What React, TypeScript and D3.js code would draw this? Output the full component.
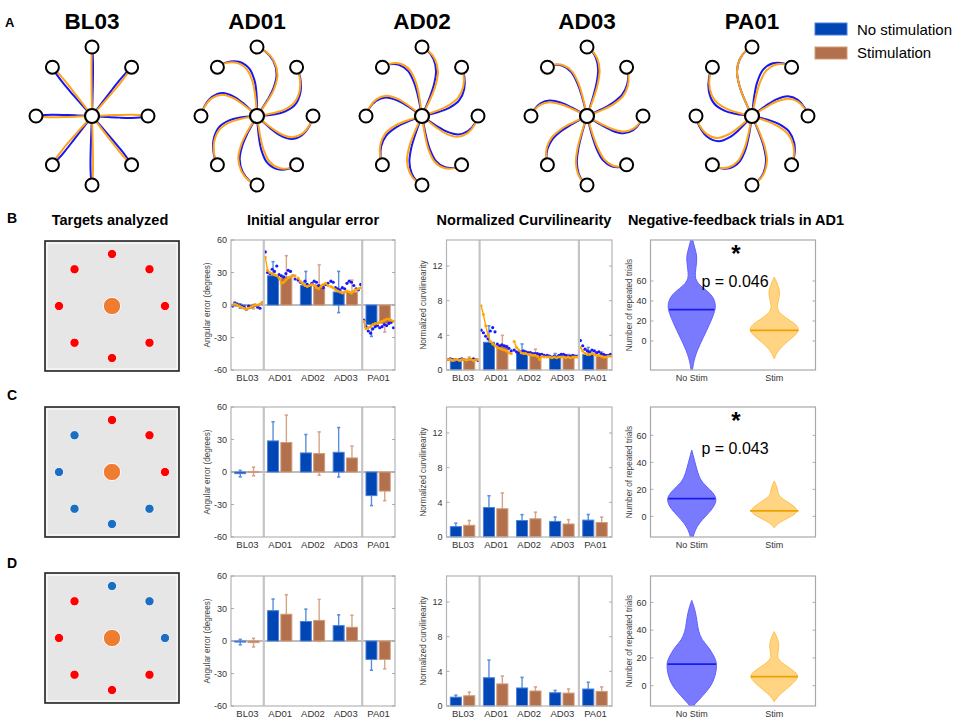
import React from "react";
import * as d3 from "d3";

const FONT = "'Liberation Sans', Arial, Helvetica, sans-serif";

// ---------- DATA ----------
const subjects = ["BL03", "AD01", "AD02", "AD03", "PA01"];
const legendLabels = ["No stimulation", "Stimulation"];
const rowLetters = ["B", "C", "D"];
const violinGroups = ["No Stim", "Stim"];

// Panel A: initial deviation (deg, + = clockwise on screen) of the path to each of 8 targets
// (target order: right, upper-right, top, upper-left, left, lower-left, bottom, lower-right)
const trajDevBlue = [
  [3, -2, 2, -3, 2, -2, 3, -2],
  [38, 42, 40, 45, 38, 42, 35, 40],
  [30, 35, 28, 32, 30, 28, 25, 32],
  [28, 25, 22, 28, 25, 22, 20, 28],
  [-32, -38, -30, -40, -42, -35, -28, -35],
];
const trajDevOrange = [
  [-2, 2, -1, 2, -2, 3, -2, 2],
  [35, 38, 42, 40, 35, 38, 38, 35],
  [34, 30, 32, 36, 33, 32, 30, 35],
  [25, 28, 25, 30, 22, 25, 22, 25],
  [-28, -32, -30, -35, -36, -32, -30, -30],
];

// Targets analyzed (per row), same target order as above
const targetColorsB = ["red", "red", "red", "red", "red", "red", "red", "red"];
const targetColorsC = ["red", "red", "red", "blue", "blue", "blue", "blue", "blue"];
const targetColorsD = ["blue", "blue", "blue", "red", "red", "red", "red", "red"];
const targetColors = [targetColorsB, targetColorsC, targetColorsD];

// Initial angular error (deg): mean and SD, rows B, C, D
const angMeanBlue = [
  [-1, 27, 18, 12, -18],
  [-1.5, 28.7, 17.6, 18.2, -21.8],
  [-1, 28, 18, 14.2, -17],
];
const angErrBlue = [
  [2, 13, 13, 19, 11],
  [3, 17.6, 17, 22.8, 9.2],
  [2.5, 10.7, 11.4, 9.9, 10],
];
const angMeanOrange = [
  [-1.5, 26, 18.5, 12, -17],
  [0.5, 27.2, 17, 13, -17.6],
  [-1.5, 24.7, 19, 12.7, -17],
];
const angErrOrange = [
  [2, 19.5, 18.5, 11, 8],
  [4, 25.3, 20, 11, 8.9],
  [4, 18, 19.4, 11.1, 8.7],
];
const angTicks = [60, 30, 0, -30, -60];

// Trial-by-trial angular error, row B
const angTrialsBlue = [
  [-1, 2, 1, 0, -1, -2, -4, -1, -2, -1, 0, -2, -3, 2],
  [49, 30, 29, 33, 31, 36, 28, 27, 26, 29, 32, 31, 27, 24],
  [23, 21, 20, 22, 19, 18, 20, 22, 21, 18, 17, 16, 19, 20],
  [22, 21, 16, 15, 14, 16, 15, 20, 22, 21, 18, 15, 14, 19],
  [-14, -20, -24, -26, -22, -20, -19, -21, -20, -18, -19, -17, -16, -21],
];
const angTrialsOrange = [
  [0, 1, 0, -1, -2, -3, -4, -3, -2, -1, 0, 0, 1, 2],
  [44, 32, 30, 29, 28, 27, 25, 20, 21, 23, 25, 26, 27, 27],
  [25, 22, 20, 18, 17, 18, 19, 18, 16, 15, 17, 19, 20, 18],
  [17, 16, 14, 13, 12, 11, 12, 13, 12, 11, 13, 14, 15, 16],
  [-15, -22, -21, -20, -18, -17, -17, -16, -15, -14, -13, -13, -14, -15],
];

// Normalized curvilinearity: mean and SD, rows B, C, D
const curvMeanBlue = [
  [1.0, 3.2, 2.0, 1.5, 1.8],
  [1.2, 3.4, 1.9, 1.8, 1.95],
  [1.02, 3.26, 2.08, 1.53, 1.96],
];
const curvErrBlue = [
  [0.2, 1.9, 1.0, 0.4, 0.8],
  [0.4, 1.36, 0.68, 0.5, 0.65],
  [0.23, 2.04, 1.22, 0.27, 0.78],
];
const curvMeanOrange = [
  [1.1, 2.85, 1.9, 1.5, 1.6],
  [1.35, 3.26, 2.1, 1.5, 1.67],
  [1.18, 2.55, 1.73, 1.49, 1.68],
];
const curvErrOrange = [
  [0.4, 1.15, 0.5, 0.3, 0.5],
  [0.55, 1.82, 0.76, 0.5, 0.63],
  [0.42, 0.9, 0.47, 0.47, 0.52],
];
const curvTicks = [0, 4, 8, 12];

const curvTrialsBlue = [
  [1.2, 1.3, 1.2, 1.2, 1.1, 1.2, 1.3, 1.2, 1.1, 1.2, 1.2, 1.3, 1.2, 1.1],
  [4.6, 4.3, 3.9, 3.6, 4.5, 4.9, 4.4, 3.0, 2.8, 2.9, 2.8, 2.7, 2.5, 2.2],
  [2.3, 2.1, 2.0, 2.1, 2.2, 2.1, 2.0, 2.0, 1.9, 1.9, 1.9, 1.8, 1.8, 1.7],
  [1.7, 1.6, 1.5, 1.6, 1.5, 1.7, 1.8, 1.8, 1.7, 1.6, 1.6, 1.7, 1.6, 1.6],
  [3.4, 2.8, 2.4, 2.2, 2.1, 2.3, 2.2, 2.0, 2.1, 1.9, 1.8, 1.7, 1.7, 1.8],
];
const curvTrialsOrange = [
  [1.2, 1.2, 1.1, 1.2, 1.2, 1.1, 1.2, 1.2, 1.1, 1.2, 1.2, 1.1, 1.2, 1.2],
  [7.4, 6.4, 5.1, 4.0, 3.3, 3.0, 2.8, 2.6, 2.5, 2.4, 2.3, 2.2, 2.0, 1.9],
  [3.3, 2.6, 2.3, 2.0, 1.9, 1.9, 1.8, 1.8, 1.7, 1.7, 1.6, 1.2, 1.6, 1.5],
  [1.5, 1.5, 1.4, 1.5, 1.4, 1.5, 1.5, 1.5, 1.4, 1.5, 1.4, 1.5, 1.5, 1.5],
  [2.6, 2.2, 1.9, 1.8, 1.8, 1.9, 1.8, 1.7, 1.7, 1.6, 1.5, 1.5, 1.6, 1.6],
];

// Negative-feedback trials: violin profiles [value, relative density]
const violinBlue = [
  [[-32, 0.02], [-23, 0.05], [-10, 0.2], [4, 0.47], [17, 0.72], [28, 0.9], [35, 0.97], [44, 0.87], [50, 0.62], [55, 0.35], [60, 0.18], [65, 0.13], [72, 0.16], [80, 0.2], [86, 0.2], [93, 0.12], [101, 0.04], [104, 0]],
  [[-18, 0.02], [-15, 0.05], [-10, 0.14], [-5, 0.3], [0, 0.55], [6, 0.85], [11, 0.98], [15, 0.96], [20, 0.72], [25, 0.42], [30, 0.28], [35, 0.2], [40, 0.13], [45, 0.06], [49, 0]],
  [[-17, 0.02], [-14, 0.08], [-10, 0.3], [-4, 0.6], [2, 0.85], [10, 0.98], [16, 1.0], [20, 0.93], [28, 0.67], [33, 0.4], [39, 0.27], [45, 0.22], [50, 0.18], [55, 0.12], [59, 0.05], [61.5, 0]],
];
const violinOrange = [
  [[-18, 0], [-14, 0.06], [-8, 0.2], [0, 0.55], [6, 0.85], [11, 1.0], [16, 0.9], [21, 0.6], [26, 0.3], [31, 0.13], [36, 0.12], [42, 0.18], [47, 0.22], [52, 0.2], [57, 0.12], [62, 0.04], [64, 0]],
  [[-8.6, 0], [-6, 0.1], [-3, 0.35], [0, 0.7], [4, 1.0], [8, 0.75], [11, 0.5], [14, 0.25], [17, 0.15], [20, 0.13], [23, 0.08], [26.2, 0]],
  [[-11.7, 0], [-9, 0.08], [-5, 0.3], [0, 0.65], [6, 1.0], [10, 0.85], [14, 0.5], [18, 0.2], [21, 0.12], [25, 0.16], [29, 0.19], [33, 0.15], [36, 0.08], [39, 0]],
];
const violinMedianBlue = [31.3, 13.1, 15.5];
const violinMedianOrange = [10.7, 4, 6.5];
const violinDomains = [[-29, 101], [-15.3, 81], [-14.6, 79]];
const violinTicks = [0, 20, 40, 60];
const pValues = ["p = 0.046", "p = 0.043", ""];

// ---------- STYLE / LAYOUT ----------
const COL = {
  barBlue: "#0046b4",
  barBlueEdge: "#4d80d8",
  barBrown: "#b2704c",
  barBrownEdge: "#d39a78",
  errBlue: "#5b8fdc",
  errBrown: "#d7a488",
  trajBlue: "#1717ee",
  trajOrange: "#ffa31a",
  dotBlue: "#1a1aff",
  dotOrange: "#ffa500",
  axis: "#b4b4b4",
  sep: "#c4c4c4",
  text: "#333",
};
const rowTops = [240, 407, 576];
const ROW_H = 130;
const targetTops = [241, 407, 573];

const S_FR = [0, 0.12, 0.3, 0.5, 0.7, 0.85, 0.95, 1.0];
const F_FR = [1, 1, 0.97, 0.9, 0.75, 0.5, 0.22, 0];

const trajX = d3.scalePoint<string>().domain(subjects).range([92, 752]);
const TR_CY = 116, TR_RX = 56, TR_RY = 69;

const line = d3.line<[number, number]>().curve(d3.curveCatmullRom.alpha(0.5));

function TrajStar({ name, idx }: { name: string; idx: number }) {
  const cx = trajX(name) as number;
  const pathFor = (k: number, dev: number) => {
    const th = k * 45;
    const pts = S_FR.map((s, i) => {
      const a = ((th - dev * F_FR[i]) * Math.PI) / 180;
      return [cx + TR_RX * s * Math.cos(a), TR_CY - TR_RY * s * Math.sin(a)] as [number, number];
    });
    return line(pts) || "";
  };
  const ks = d3.range(8);
  return (
    <g>
      <text x={cx} y={29} textAnchor="middle" fontFamily={FONT} fontWeight="bold" fontSize={22.5}>{name}</text>
      {ks.map((k) => (
        <path key={"b" + k} d={pathFor(k, trajDevBlue[idx][k])} fill="none" stroke={COL.trajBlue} strokeWidth={2} />
      ))}
      {ks.map((k) => (
        <path key={"o" + k} d={pathFor(k, trajDevOrange[idx][k])} fill="none" stroke={COL.trajOrange} strokeWidth={2} />
      ))}
      {ks.map((k) => {
        const a = (k * 45 * Math.PI) / 180;
        return (
          <circle key={"t" + k} cx={cx + TR_RX * Math.cos(a)} cy={TR_CY - TR_RY * Math.sin(a)} r={6.5} fill="white" stroke="#000" strokeWidth={2} />
        );
      })}
      <circle cx={cx} cy={TR_CY} r={7} fill="white" stroke="#000" strokeWidth={2.2} />
    </g>
  );
}

function TargetBox({ row }: { row: number }) {
  const x0 = 45, x1 = 179, y0 = targetTops[row], y1 = y0 + 130;
  const cx = (x0 + x1) / 2, cy = (y0 + y1) / 2;
  const colorMap: Record<string, string> = { red: "#ff0000", blue: "#1b6ec2" };
  return (
    <g>
      <rect x={x0} y={y0} width={x1 - x0} height={y1 - y0} fill="#e6e6e6" stroke="#222" strokeWidth={1.6} />
      <rect x={x0 + 2} y={y0 + 2} width={x1 - x0 - 4} height={y1 - y0 - 4} fill="none" stroke="#fff" strokeWidth={1} />
      {targetColors[row].map((c, k) => {
        const a = (k * 45 * Math.PI) / 180;
        return <circle key={k} cx={cx + 53 * Math.cos(a)} cy={cy - 52 * Math.sin(a)} r={4.6} fill={colorMap[c]} stroke="#fff" strokeWidth={0.8} />;
      })}
      <circle cx={cx} cy={cy} r={8.7} fill="#ee7d31" stroke="#fff" strokeWidth={1} />
    </g>
  );
}

type BarProps = {
  x0: number; x1: number; y0: number; y1: number;
  domain: [number, number]; ticks: number[];
  meanB: number[]; errB: number[]; meanO: number[]; errO: number[];
  trialsB?: number[][]; trialsO?: number[][];
  ylabel: string; zero: boolean;
};

function BarPanel(p: BarProps) {
  const x = d3.scaleBand<string>().domain(subjects).range([p.x0, p.x1]);
  const bw = x.bandwidth();
  const sub = d3.scaleBand<string>().domain(["b", "o"]).range([bw * 0.1, bw * 0.87]).paddingInner(0.1);
  const y = d3.scaleLinear().domain(p.domain).range([p.y1, p.y0]);
  const w = sub.bandwidth();
  const bar = (cat: string, key: string, m: number, e: number, fill: string, edge: string, ec: string) => {
    const bx = (x(cat) as number) + (sub(key) as number);
    const xc = bx + w / 2;
    const top = Math.min(y(0), y(m));
    const h = Math.abs(y(m) - y(0));
    return (
      <g key={cat + key}>
        <line x1={xc} x2={xc} y1={y(m - e)} y2={y(m + e)} stroke={ec} strokeWidth={1.4} />
        <line x1={xc - 1.6} x2={xc + 1.6} y1={y(m - e)} y2={y(m - e)} stroke={ec} strokeWidth={1.6} />
        <line x1={xc - 1.6} x2={xc + 1.6} y1={y(m + e)} y2={y(m + e)} stroke={ec} strokeWidth={1.6} />
        <rect x={bx + 0.5} y={top} width={w - 1} height={Math.max(h, 1)} fill={fill} stroke={edge} strokeWidth={1} />
      </g>
    );
  };
  const trialPts = (vals: number[], cat: string) => {
    const xs = d3.scaleLinear().domain([0, vals.length - 1]).range([(x(cat) as number) + 1.5, (x(cat) as number) + bw - 1.5]);
    return vals.map((v, j) => [xs(j), y(v)] as [number, number]);
  };
  const midY = (p.y0 + p.y1) / 2;
  return (
    <g fontFamily={FONT}>
      {p.zero && <line x1={p.x0} x2={p.x1} y1={y(0)} y2={y(0)} stroke="#a8a8a8" strokeWidth={1.4} />}
      {subjects.map((s, i) => bar(s, "b", p.meanB[i], p.errB[i], COL.barBlue, COL.barBlueEdge, COL.errBlue))}
      {subjects.map((s, i) => bar(s, "o", p.meanO[i], p.errO[i], COL.barBrown, COL.barBrownEdge, COL.errBrown))}
      {p.trialsB && subjects.map((s, i) => trialPts(p.trialsB![i], s).map((pt, j) => (
        <circle key={"tb" + i + "-" + j} cx={pt[0]} cy={pt[1]} r={1.6} fill={COL.dotBlue} />
      )))}
      {p.trialsO && subjects.map((s, i) => {
        const pts = trialPts(p.trialsO![i], s);
        return (
          <g key={"to" + i}>
            <path d={d3.line()(pts) || ""} fill="none" stroke={COL.dotOrange} strokeWidth={1.4} />
            {pts.map((pt, j) => <circle key={j} cx={pt[0]} cy={pt[1]} r={1.5} fill={COL.dotOrange} />)}
          </g>
        );
      })}
      {["AD01", "PA01"].map((s) => (
        <line key={s} x1={x(s) as number} x2={x(s) as number} y1={p.y0} y2={p.y1} stroke={COL.sep} strokeWidth={2.2} />
      ))}
      <rect x={p.x0} y={p.y0} width={p.x1 - p.x0} height={p.y1 - p.y0} fill="none" stroke={COL.axis} strokeWidth={1.2} />
      {p.ticks.map((t) => (
        <g key={t}>
          <line x1={p.x0} x2={p.x0 + 3} y1={y(t)} y2={y(t)} stroke="#999" strokeWidth={0.8} />
          <line x1={p.x1 - 3} x2={p.x1} y1={y(t)} y2={y(t)} stroke="#999" strokeWidth={0.8} />
          <text x={p.x0 - 4} y={y(t) + 3.2} textAnchor="end" fontSize={9} fill={COL.text}>{t}</text>
        </g>
      ))}
      {subjects.map((s) => (
        <text key={s} x={(x(s) as number) + bw / 2} y={p.y1 + 11} textAnchor="middle" fontSize={9.5} fill={COL.text}>{s}</text>
      ))}
      <text transform={`translate(${p.x0 - 21},${midY}) rotate(-90)`} textAnchor="middle" fontSize={8.2} fill="#444">{p.ylabel}</text>
    </g>
  );
}

function ViolinPanel({ row }: { row: number }) {
  const x0 = 650.5, x1 = 815.5, y0 = rowTops[row], y1 = y0 + ROW_H;
  const xs = d3.scalePoint<string>().domain(violinGroups).range([x0, x1]).padding(0.5);
  const y = d3.scaleLinear().domain(violinDomains[row]).range([y1, y0]);
  const wS = d3.scaleLinear().domain([0, 1]).range([0, 25]);
  const clipId = "vclip" + row;
  const shapes = [
    { prof: violinBlue[row], med: violinMedianBlue[row], fill: "#7373ff", stroke: "#5f5fff", medc: "#1c1ce6", g: violinGroups[0] },
    { prof: violinOrange[row], med: violinMedianOrange[row], fill: "#ffd27c", stroke: "#ffbf4d", medc: "#f0a000", g: violinGroups[1] },
  ];
  return (
    <g fontFamily={FONT}>
      <defs>
        <clipPath id={clipId}><rect x={x0} y={y0} width={x1 - x0} height={y1 - y0} /></clipPath>
      </defs>
      <g clipPath={`url(#${clipId})`}>
        {shapes.map((sh) => {
          const cx = xs(sh.g) as number;
          const area = d3.area<number[]>()
            .y((d) => y(d[0]))
            .x0((d) => cx - wS(d[1]))
            .x1((d) => cx + wS(d[1]))
            .curve(d3.curveBasis);
          const interp = d3.scaleLinear().domain(sh.prof.map((d) => d[0])).range(sh.prof.map((d) => d[1]));
          const mw = wS(interp(sh.med)) * 0.97;
          return (
            <g key={sh.g}>
              <path d={area(sh.prof) || ""} fill={sh.fill} fillOpacity={0.95} stroke={sh.stroke} strokeWidth={1} />
              <line x1={cx - mw} x2={cx + mw} y1={y(sh.med)} y2={y(sh.med)} stroke={sh.medc} strokeWidth={1.8} />
            </g>
          );
        })}
      </g>
      <rect x={x0} y={y0} width={x1 - x0} height={y1 - y0} fill="none" stroke="#a8a8a8" strokeWidth={1.2} />
      {violinTicks.map((t) => (
        <g key={t}>
          <line x1={x0} x2={x0 + 3} y1={y(t)} y2={y(t)} stroke="#999" strokeWidth={0.8} />
          <line x1={x1 - 3} x2={x1} y1={y(t)} y2={y(t)} stroke="#999" strokeWidth={0.8} />
          <text x={x0 - 4} y={y(t) + 3.2} textAnchor="end" fontSize={9} fill={COL.text}>{t}</text>
        </g>
      ))}
      {violinGroups.map((g) => (
        <text key={g} x={xs(g) as number} y={y1 + 11} textAnchor="middle" fontSize={9} fill={COL.text}>{g}</text>
      ))}
      <text transform={`translate(${x0 - 19},${(y0 + y1) / 2}) rotate(-90)`} textAnchor="middle" fontSize={8.2} fill="#444">Number of repeated trials</text>
      {pValues[row] && (
        <g>
          <text x={736} y={y0 + 22} textAnchor="middle" fontSize={24} fontWeight="bold">*</text>
          <text x={735} y={y0 + 47} textAnchor="middle" fontSize={16}>{pValues[row]}</text>
        </g>
      )}
    </g>
  );
}

export default function App() {
  return (
    <svg width={957} height={721} style={{ position: "absolute", left: 0, top: 0, background: "#fff" }} fontFamily={FONT}>
      <rect width={957} height={721} fill="#fff" />
      {/* Panel A */}
      <text x={5} y={27} fontWeight="bold" fontSize={13}>A</text>
      {subjects.map((s, i) => <TrajStar key={s} name={s} idx={i} />)}
      <rect x={815} y={23} width={32} height={12} fill={COL.barBlue} stroke={COL.barBlueEdge} strokeWidth={1} />
      <rect x={815} y={47} width={32} height={12} fill={COL.barBrown} stroke={COL.barBrownEdge} strokeWidth={1} />
      <text x={857} y={34.5} fontSize={15}>{legendLabels[0]}</text>
      <text x={857} y={58} fontSize={15}>{legendLabels[1]}</text>

      {/* Column titles */}
      <text x={110} y={225} textAnchor="middle" fontWeight="bold" fontSize={14.5}>Targets analyzed</text>
      <text x={313} y={225} textAnchor="middle" fontWeight="bold" fontSize={14.5}>Initial angular error</text>
      <text x={524} y={225} textAnchor="middle" fontWeight="bold" fontSize={14.5}>Normalized Curvilinearity</text>
      <text x={736} y={225} textAnchor="middle" fontWeight="bold" fontSize={14.5}>Negative-feedback trials in AD1</text>

      {rowLetters.map((L, r) => (
        <g key={L}>
          <text x={7} y={[223, 400, 568][r]} fontWeight="bold" fontSize={14}>{L}</text>
          <TargetBox row={r} />
          <BarPanel
            x0={231} x1={395} y0={rowTops[r]} y1={rowTops[r] + ROW_H}
            domain={[-60, 60]} ticks={angTicks}
            meanB={angMeanBlue[r]} errB={angErrBlue[r]} meanO={angMeanOrange[r]} errO={angErrOrange[r]}
            trialsB={r === 0 ? angTrialsBlue : undefined} trialsO={r === 0 ? angTrialsOrange : undefined}
            ylabel="Angular error (degrees)" zero={true}
          />
          <BarPanel
            x0={446.5} x1={612} y0={rowTops[r]} y1={rowTops[r] + ROW_H}
            domain={[0, 15]} ticks={curvTicks}
            meanB={curvMeanBlue[r]} errB={curvErrBlue[r]} meanO={curvMeanOrange[r]} errO={curvErrOrange[r]}
            trialsB={r === 0 ? curvTrialsBlue : undefined} trialsO={r === 0 ? curvTrialsOrange : undefined}
            ylabel="Normalized curvilinearity" zero={false}
          />
          <ViolinPanel row={r} />
        </g>
      ))}
    </svg>
  );
}
